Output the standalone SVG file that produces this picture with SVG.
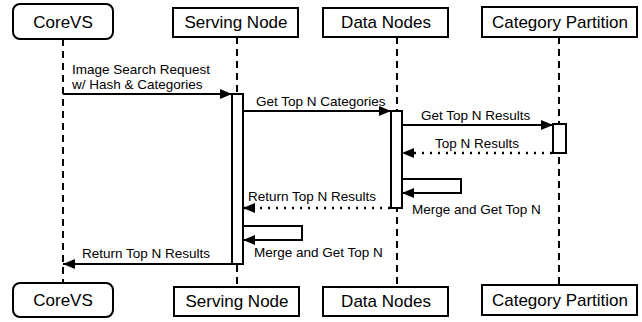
<svg xmlns="http://www.w3.org/2000/svg" width="642" height="322" viewBox="0 0 642 322">
<defs>
<style>
.box{fill:#fff;stroke:#000;stroke-width:2}
.t{font-family:"Liberation Sans",Arial,sans-serif;font-size:17px;fill:#000;text-anchor:middle}
.m{font-family:"Liberation Sans",Arial,sans-serif;font-size:13.5px;fill:#000}
.life{stroke:#000;stroke-width:2;stroke-dasharray:7,5;fill:none}
.msg{stroke:#000;stroke-width:2;fill:none}
.dot{stroke:#000;stroke-width:2.5;stroke-dasharray:2,6;fill:none}
.act{fill:#fff;stroke:#000;stroke-width:2}
</style>
<marker id="ah" viewBox="0 0 12 10" refX="12" refY="5" markerWidth="12" markerHeight="10" markerUnits="userSpaceOnUse" orient="auto">
<path d="M0,0 L12,5 L0,10 z" fill="#000"/>
</marker>
</defs>
<g id="lifelines">
<line class="life" x1="63" y1="39" x2="63" y2="282"/>
<line class="life" x1="237" y1="37" x2="237" y2="287"/>
<line class="life" x1="397" y1="37" x2="397" y2="287"/>
<line class="life" x1="559" y1="37" x2="559" y2="285"/>
</g>
<g id="node-corevs-top"><rect class="box" x="13" y="4" width="100" height="35" rx="7"/><text class="t" x="63" y="28">CoreVS</text></g>
<g id="node-serving-top"><rect class="box" x="173" y="8" width="125" height="29"/><text class="t" x="236" y="28">Serving Node</text></g>
<g id="node-data-top"><rect class="box" x="323" y="8" width="125" height="29"/><text class="t" x="386" y="28">Data Nodes</text></g>
<g id="node-cp-top"><rect class="box" x="482" y="7" width="155" height="30"/><text class="t" x="560" y="28">Category Partition</text></g>
<g id="activations">
<rect class="act" x="232" y="94" width="11" height="170"/>
<rect class="act" x="391" y="111" width="11" height="97"/>
<rect class="act" x="553" y="124" width="13" height="29"/>
</g>
<g id="connectors">
<line class="msg" x1="63" y1="94" x2="232" y2="94" marker-end="url(#ah)"/>
<line class="msg" x1="243" y1="111" x2="391" y2="111" marker-end="url(#ah)"/>
<line class="msg" x1="402" y1="125" x2="553" y2="125" marker-end="url(#ah)"/>
<line class="dot" x1="552" y1="153" x2="402" y2="153" marker-end="url(#ah)"/>
<polyline class="msg" points="402,179 461,179 461,193 402,193" marker-end="url(#ah)"/>
<line class="dot" x1="390" y1="208" x2="243" y2="208" marker-end="url(#ah)"/>
<polyline class="msg" points="243,226 302,226 302,240 243,240" marker-end="url(#ah)"/>
<line class="msg" x1="232" y1="264" x2="63" y2="264" marker-end="url(#ah)"/>
</g>
<g id="labels">
<text class="m" x="72" y="74">Image Search Request</text>
<text class="m" x="72" y="89">w/ Hash &amp; Categories</text>
<text class="m" x="256" y="106">Get Top N Categories</text>
<text class="m" x="421" y="120">Get Top N Results</text>
<text class="m" x="435" y="148">Top N Results</text>
<text class="m" x="248" y="201">Return Top N Results</text>
<text class="m" x="412" y="214">Merge and Get Top N</text>
<text class="m" x="254" y="257">Merge and Get Top N</text>
<text class="m" x="82" y="258">Return Top N Results</text>
</g>
<g id="node-corevs-bottom"><rect class="box" x="13" y="283" width="100" height="34" rx="7"/><text class="t" x="63" y="306">CoreVS</text></g>
<g id="node-serving-bottom"><rect class="box" x="174" y="287" width="125" height="29"/><text class="t" x="237" y="307">Serving Node</text></g>
<g id="node-data-bottom"><rect class="box" x="323" y="287" width="125" height="29"/><text class="t" x="386" y="307">Data Nodes</text></g>
<g id="node-cp-bottom"><rect class="box" x="482" y="285" width="155" height="30"/><text class="t" x="560" y="306">Category Partition</text></g>
</svg>
